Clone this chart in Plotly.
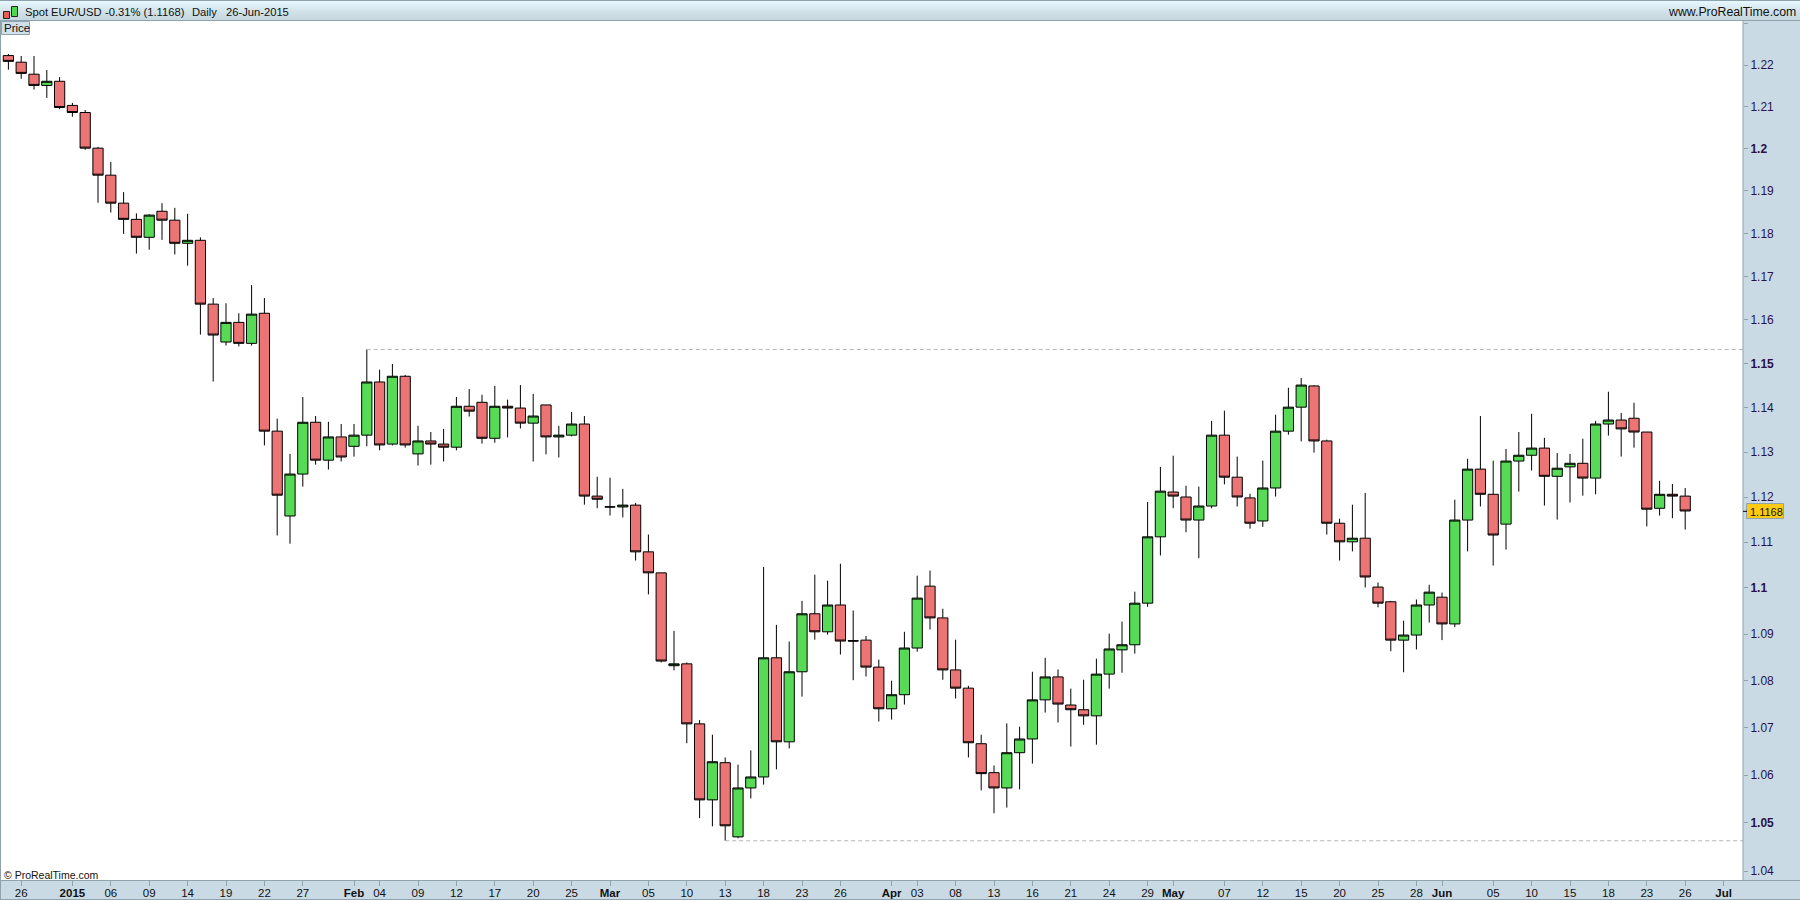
import math
import pandas as pd
import plotly.graph_objects as go

high = [1.2227,1.2222,1.2222,1.2188,1.2171,1.2109,1.2092,1.2004,1.1968,1.1897,1.1847,1.1845,
1.1871,1.1860,1.1846,1.1791,1.1650,1.1638,1.1615,1.1680,1.1650,1.1375,1.1296,1.1424,1.1381,1.1368,1.1363,1.1363,1.1532,1.1486,1.1499,1.1474,1.1359,1.1345,1.1352,1.1424,1.1442,1.1429,1.1449,1.1418,1.1451,1.1431,1.1406,1.1359,1.1390,1.1381,1.1245,1.1243,1.1218,1.1187,1.1117,1.1033,1.0907,1.0839,1.0716,1.0685,1.0637,1.0622,1.0652,1.1046,1.0920,1.0884,1.0972,1.1029,1.1016,1.1053,1.0951,1.0896,1.0845,1.0800,1.0905,1.1027,1.1038,1.0955,1.0888,1.0789,1.0685,1.0620,1.0709,1.0702,1.0819,1.0849,1.0824,1.0783,1.0802,1.0847,1.0901,1.0927,1.0992,1.1189,1.1267,1.1292,1.1225,1.1223,1.1370,1.1393,1.1290,1.1207,1.1281,1.1384,1.1445,1.1467,1.1451,1.1328,1.1152,1.1183,1.1209,1.1012,1.0972,1.0929,1.0975,1.1007,1.0990,1.1194,1.1285,1.1381,1.1281,1.1307,1.1345,1.1386,1.1332,1.1298,1.1296,1.1330,1.1370,1.1436,1.1388,1.1411,1.1345,1.1236,1.1229,1.1220]
low = [1.2189,1.2167,1.2141,1.2121,1.2094,1.2076,1.1997,1.1872,1.1849,1.1799,1.1753,1.1762,1.1785,1.1751,1.1725,1.1566,1.1459,1.1541,1.1539,1.1541,1.1315,1.1115,1.1097,1.1223,1.1272,1.1261,1.1279,1.1290,1.1313,1.1304,1.1315,1.1310,1.1270,1.1272,1.1279,1.1304,1.1380,1.1319,1.1321,1.1333,1.1353,1.1279,1.1295,1.1288,1.1335,1.1183,1.1175,1.1159,1.1155,1.1060,1.0986,1.0839,1.0822,1.0667,1.0510,1.0493,1.0463,1.0468,1.0551,1.0580,1.0612,1.0656,1.0766,1.0888,1.0899,1.0856,1.0801,1.0809,1.0713,1.0717,1.0749,1.0862,1.0910,1.0802,1.0762,1.0637,1.0568,1.0520,1.0532,1.0570,1.0624,1.0732,1.0711,1.0660,1.0706,1.0664,1.0783,1.0817,1.0858,1.0959,1.1071,1.1175,1.1122,1.1065,1.1175,1.1228,1.1179,1.1130,1.1134,1.1201,1.1339,1.1324,1.1299,1.1117,1.1060,1.1080,1.1001,1.0958,1.0863,1.0818,1.0867,1.0925,1.0887,1.0915,1.1080,1.1179,1.1049,1.1084,1.1212,1.1259,1.1181,1.1150,1.1188,1.1203,1.1206,1.1337,1.1290,1.1310,1.1135,1.1159,1.1153,1.1128]
body_top = [1.2223,1.2207,1.2178,1.2161,1.2161,1.2103,1.2086,1.2001,1.1937,1.1871,1.1833,1.1843,1.1852,1.1831,1.1784,1.1784,1.1636,1.1594,1.1594,1.1613,1.1615,1.1347,1.1251,1.1367,1.1367,1.1334,1.1334,1.1338,1.1458,1.1458,1.1471,1.1471,1.1325,1.1325,1.1318,1.1403,1.1403,1.1412,1.1403,1.1403,1.1399,1.1381,1.1406,1.1338,1.1363,1.1363,1.1202,1.1178,1.1182,1.1182,1.1079,1.1033,1.0836,1.0836,1.0708,1.0628,1.0626,1.0573,1.0596,1.0849,1.0849,1.0819,1.0944,1.0944,1.0963,1.0963,1.0886,1.0887,1.0829,1.0770,1.0870,1.0978,
1.1004,1.0935,1.0823,1.0784,1.0666,1.0605,1.0647,1.0676,1.0759,1.0808,1.0808,1.0748,1.0738,1.0814,1.0868,1.0877,1.0967,1.1112,1.1213,1.1211,1.1200,1.1180,1.1338,1.1338,1.1244,1.1198,1.1220,1.1347,1.1401,1.1451,1.1449,1.1325,1.1142,1.1109,1.1109,1.1002,1.0970,1.0898,1.0963,1.0991,1.0980,1.1149,1.1262,1.1262,1.1206,1.1280,1.1293,1.1309,1.1309,1.1264,1.1275,1.1275,1.1363,1.1372,1.1372,1.1376,1.1345,1.1206,1.1206,1.1202]
body_bottom = [1.2209,1.2180,1.2151,1.2151,1.2098,1.2086,1.2001,1.1937,1.1871,1.1833,1.1791,1.1791,1.1831,1.1777,1.1777,1.1636,1.1565,1.1549,1.1546,1.1546,1.1347,1.1204,1.1158,1.1251,1.1282,1.1282,1.1289,1.1313,1.1338,1.1316,1.1318,1.1316,1.1296,1.1318,1.1311,1.1311,1.1392,1.1331,1.1331,1.1399,1.1365,1.1365,1.1334,1.1334,1.1338,1.1202,1.1195,1.1178,1.1178,1.1079,1.1033,1.0842,1.0832,1.0708,1.0548,1.0548,1.0494,1.0471,1.0573,1.0596,1.0670,1.0670,1.0819,1.0905,1.0905,1.0885,1.0885,1.0829,1.0740,1.0740,1.0770,1.0870,1.0935,1.0823,1.0784,1.0668,1.0603,1.0573,1.0573,1.0647,1.0676,1.0759,1.0750,1.0738,1.0725,1.0725,1.0814,1.0866,1.0877,1.0967,1.1112,1.1202,1.1149,1.1149,1.1180,1.1244,1.1200,1.1142,1.1147,1.1220,1.1347,1.1401,1.1325,1.1142,1.1101,1.1101,1.1024,1.0967,1.0887,1.0887,1.0898,1.0963,1.0922,1.0922,1.1149,1.1206,1.1116,1.1140,1.1280,1.1293,1.1246,1.1246,1.1267,1.1242,1.1242,1.1363,1.1352,1.1345,1.1173,1.1175,1.1202,1.1169]
rising_bars = [3,11,14,17,19,22,23,25,27,28,30,32,35,38,41,43,44,48,52,55,57,58,59,61,62,64,69,70,71,78,79,80,81,85,86,87,88,89,90,93,94,98,99,100,101,105,109,110,111,113,114,117,118,119,121,122,124,125,129]

tick_dates = ["2014-12-26","2015-01-01","2015-01-06","2015-01-09","2015-01-14","2015-01-19","2015-01-22","2015-01-27",
 "2015-02-02","2015-02-04","2015-02-09","2015-02-12","2015-02-17","2015-02-20","2015-02-25",
 "2015-03-02","2015-03-05","2015-03-10","2015-03-13","2015-03-18","2015-03-23","2015-03-26",
 "2015-04-01","2015-04-03","2015-04-08","2015-04-13","2015-04-16","2015-04-21","2015-04-24","2015-04-29",
 "2015-05-01","2015-05-07","2015-05-12","2015-05-15","2015-05-20","2015-05-25","2015-05-28",
 "2015-06-01","2015-06-05","2015-06-10","2015-06-15","2015-06-18","2015-06-23","2015-06-26","2015-07-01"]
tick_labels = ["26","<b>2015</b>","06","09","14","19","22","27","<b>Feb</b>","04","09","12","17","20","25",
 "<b>Mar</b>","05","10","13","18","23","26","<b>Apr</b>","03","08","13","16","21","24","29",
 "<b>May</b>","07","12","15","20","25","28","<b>Jun</b>","05","10","15","18","23","26","<b>Jul</b>"]
price_ticks = [1.04,1.05,1.06,1.07,1.08,1.09,1.1,1.11,1.12,1.13,1.14,1.15,1.16,1.17,1.18,1.19,1.2,1.21,1.22,1.23]
price_labels = ["1.04","<b>1.05</b>","1.06","1.07","1.08","1.09","<b>1.1</b>","1.11","1.12","1.13","1.14","<b>1.15</b>","1.16","1.17","1.18","1.19","<b>1.2</b>","1.21","1.22",""]
last_price = 1.1168
y_range = (1.0382, 1.2307)

W, H_ = 1800, 900
L, R, T, B = 1, 1743, 21, 880
PANEL = "#C9DAE4"; EDGE = "#8FA3AF"

n = len(high)
all_days = pd.bdate_range("2014-12-25", "2015-07-03")
idx = {d.strftime("%Y-%m-%d"): i for i, d in enumerate(all_days)}
xs = list(range(n))
up = set(rising_bars)
opens = [body_bottom[i] if i in up else body_top[i] for i in xs]
closes = [body_top[i] if i in up else body_bottom[i] for i in xs]

def px(x): return (x - L) / (R - L)
def py(y): return (B - y) / (B - T)

fig = go.Figure()
right_edge = (R - 8.4) / 12.8
fig.add_trace(go.Scatter(x=[28, right_edge], y=[high[28], high[28]], mode="lines",
    line=dict(color="#B4B4B4", width=1, dash="4px,3px"), hoverinfo="skip", showlegend=False))
fig.add_trace(go.Scatter(x=[56, right_edge], y=[low[56], low[56]], mode="lines",
    line=dict(color="#B4B4B4", width=1, dash="4px,3px"), hoverinfo="skip", showlegend=False))
fig.add_trace(go.Candlestick(x=xs, open=opens, high=high, low=low, close=closes,
    increasing=dict(fillcolor="#57DB57", line=dict(color="black", width=1)),
    decreasing=dict(fillcolor="#EC7474", line=dict(color="black", width=1)),
    whiskerwidth=0, showlegend=False))

shapes = []
def rect(x0, y0, x1, y1, fill, line=None):
    shapes.append(dict(type="rect", xref="paper", yref="paper", x0=px(x0), x1=px(x1), y0=py(y0), y1=py(y1),
        fillcolor=fill, line=dict(color=line or fill, width=1 if line else 0), layer="above"))

# header gradient
grad = ["#E5F6FC","#E1F2F8","#DDEEF4","#D9EAF0","#D5E6EC","#D1E3E9","#CEE0E6","#CBDDE3","#C9DBE1","#C7D9DF"]
for k, c in enumerate(grad):
    y0 = 1 + k * 19 / len(grad)
    rect(0, y0, W, y0 + 19 / len(grad) + 0.5, c)
rect(0, 0, W, 1, EDGE)
rect(0, 20, W, 21, EDGE)
rect(0, 21, 1, H_, EDGE)
rect(0, 880, W, 881, EDGE)
rect(0, 899, W, 900, EDGE)
rect(1742.5, 21, 1743.5, 881, EDGE)
# logo
rect(3.5, 11.5, 9.5, 18.5, "#E85C5C", "#222222")
rect(11.5, 6.5, 17.5, 16.5, "#4CD94C", "#222222")
shapes.append(dict(type="line", xref="paper", yref="paper", x0=px(6.5), x1=px(6.5), y0=py(9), y1=py(20), line=dict(color="#222", width=1), layer="below"))
shapes.append(dict(type="line", xref="paper", yref="paper", x0=px(14.5), x1=px(14.5), y0=py(3), y1=py(19), line=dict(color="#222", width=1), layer="below"))
# Price tab
rect(1.5, 21.5, 29.5, 34.5, "#CFE0E8", EDGE)
# last price tag
rect(1746.5, 503.5, 1783.5, 518.5, "#FFCB12", EDGE)
shapes.append(dict(type="line", xref="paper", yref="paper", x0=px(1743), x1=px(1747), y0=py(511.3), y1=py(511.3), line=dict(color="black", width=1), layer="above"))

def note(x, y, text, anchor="left", size=11, color="#111111"):
    return dict(xref="paper", yref="paper", x=px(x), y=py(y), text=text, showarrow=False, xanchor=anchor,
                yanchor="middle", font=dict(family="Liberation Sans", size=size, color=color), borderpad=0, xshift=0, yshift=0)

annotations = [
    note(24, 11.5, "Spot EUR/USD", size=11.2),
    note(104, 11.5, "-0.31% (1.1168)", size=11.2),
    note(191, 11.5, "Daily", size=11.2),
    note(225, 11.5, "26-Jun-2015", size=11.2),
    note(1797, 11.5, "www.ProRealTime.com", "right", size=12.3),
    note(2.5, 28, "Price", size=11.5),
    note(2.5, 874.5, "© ProRealTime.com", size=10.5),
    note(1748.5, 511.5, f"{last_price:.4f}", size=11),
]

fig.update_layout(
    width=W, height=H_, autosize=False,
    margin=dict(l=L, r=W - R, t=T, b=H_ - B, pad=0, autoexpand=False),
    paper_bgcolor=PANEL, plot_bgcolor="white", boxgap=0.2, boxgroupgap=0,
    font=dict(family="Liberation Sans", size=12, color="#111"),
    shapes=shapes, annotations=annotations, showlegend=False,
    xaxis=dict(range=[(L - 8.4) / 12.8, right_edge], rangeslider=dict(visible=False), showgrid=False, zeroline=False,
        tickmode="array", tickvals=[idx[d] for d in tick_dates], ticktext=tick_labels,
        ticks="outside", ticklen=5, tickcolor=EDGE, tickwidth=1, tickfont=dict(size=11.5, color="#111"), tickangle=0,
        ticklabelstandoff=-3),
    yaxis=dict(type="log", side="right", range=[math.log10(y_range[0]), math.log10(y_range[1])],
        showgrid=False, zeroline=False, tickmode="array", tickvals=price_ticks, ticktext=price_labels,
        ticks="outside", ticklen=4, tickcolor=EDGE, tickwidth=1, tickfont=dict(size=12, color="#2A1248")),
)
fig.write_html("out.html", config=dict(displayModeBar=False), post_script="document.body.style.margin='0';document.body.style.overflow='hidden';")
